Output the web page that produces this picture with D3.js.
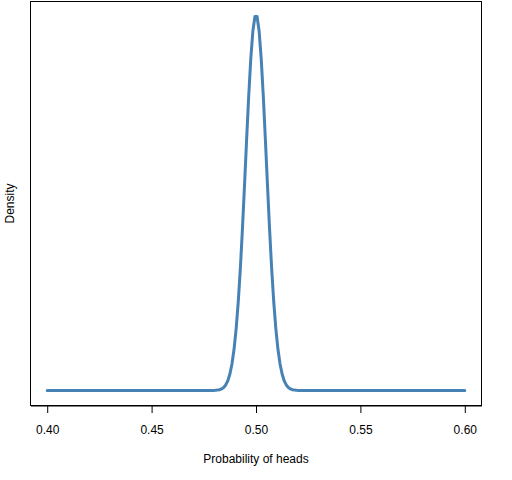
<!DOCTYPE html>
<html>
<head>
<meta charset="utf-8">
<script src="https://cdn.jsdelivr.net/npm/d3@7"></script>
<style>
  html, body { margin: 0; padding: 0; background: #fff; }
  text { font-family: "Liberation Sans", Arial, sans-serif; }
</style>
</head>
<body>
<svg id="chart" width="512" height="480"></svg>
<script>
// ---- data ----
const probHeads = [0.4000,
  0.4795, 0.4805, 0.4815, 0.4825, 0.4835, 0.4845, 0.4855, 0.4865, 0.4875, 0.4885,
  0.4895, 0.4905, 0.4915, 0.4925, 0.4935, 0.4945, 0.4955, 0.4965, 0.4975, 0.4985, 0.4995,
  0.5005, 0.5015, 0.5025, 0.5035, 0.5045, 0.5055, 0.5065, 0.5075, 0.5085, 0.5095,
  0.5105, 0.5115, 0.5125, 0.5135, 0.5145, 0.5155, 0.5165, 0.5175, 0.5185, 0.5195, 0.5205,
  0.6000];
const density = [0.00,
  0.02, 0.04, 0.09, 0.17, 0.34, 0.65, 1.19, 2.08, 3.51, 5.67,
  8.80, 13.12, 18.81, 25.90, 34.27, 43.57, 53.22, 62.45, 70.41, 76.28, 79.39,
  79.39, 76.28, 70.41, 62.45, 53.22, 43.57, 34.27, 25.90, 18.81, 13.12,
  8.80, 5.67, 3.51, 2.08, 1.19, 0.65, 0.34, 0.17, 0.09, 0.04, 0.02,
  0.00];
const xTicks = [0.40, 0.45, 0.50, 0.55, 0.60];
const xTickLabels = ["0.40", "0.45", "0.50", "0.55", "0.60"];
const xTitle = "Probability of heads";
const yTitle = "Density";

// ---- layout ----
const svg = d3.select("#chart");
const box = { left: 30.5, right: 481.5, top: 1.5, bottom: 405.5 };

const xMin = d3.min(probHeads), xMax = d3.max(probHeads);
const xPad = (xMax - xMin) * 0.04;
const x = d3.scaleLinear()
  .domain([xMin - xPad, xMax + xPad])
  .range([box.left, box.right]);

const yMax = d3.max(density);
const yPad = yMax * 0.04;
const y = d3.scaleLinear()
  .domain([0 - yPad, yMax + yPad])
  .range([box.bottom, box.top]);

// curve
const pts = probHeads.map((p, i) => [p, density[i]]);
svg.append("path")
  .datum(pts)
  .attr("fill", "none")
  .attr("stroke", "#4682B4")
  .attr("stroke-width", 3)
  .attr("stroke-linejoin", "round")
  .attr("stroke-linecap", "round")
  .attr("d", d3.line().x(d => x(d[0])).y(d => y(d[1])));

// box
svg.append("rect")
  .attr("x", box.left).attr("y", box.top)
  .attr("width", box.right - box.left)
  .attr("height", box.bottom - box.top)
  .attr("fill", "none")
  .attr("stroke", "#000")
  .attr("stroke-width", 1);

// x axis
const xAxis = d3.axisBottom(x)
  .tickValues(xTicks)
  .tickFormat((d, i) => xTickLabels[i])
  .tickSize(7.5)
  .tickPadding(12)
  .tickSizeOuter(0);
const gx = svg.append("g")
  .attr("transform", `translate(0,${box.bottom})`)
  .call(xAxis);
gx.select(".domain").attr("stroke", "#000");
gx.selectAll(".tick line").attr("stroke", "#000");
gx.selectAll(".tick text")
  .attr("fill", "#000")
  .style("font-size", "12px")
  .attr("font-family", "Liberation Sans, Arial, sans-serif");

// titles
svg.append("text")
  .attr("x", (x(0.4) + x(0.6)) / 2)
  .attr("y", 462.5)
  .attr("text-anchor", "middle")
  .style("font-size", "12px")
  .attr("fill", "#000")
  .text(xTitle);

svg.append("text")
  .attr("transform", `translate(13.5,${(box.top + box.bottom) / 2}) rotate(-90)`)
  .attr("text-anchor", "middle")
  .style("font-size", "12px")
  .attr("fill", "#000")
  .text(yTitle);
</script>
</body>
</html>
